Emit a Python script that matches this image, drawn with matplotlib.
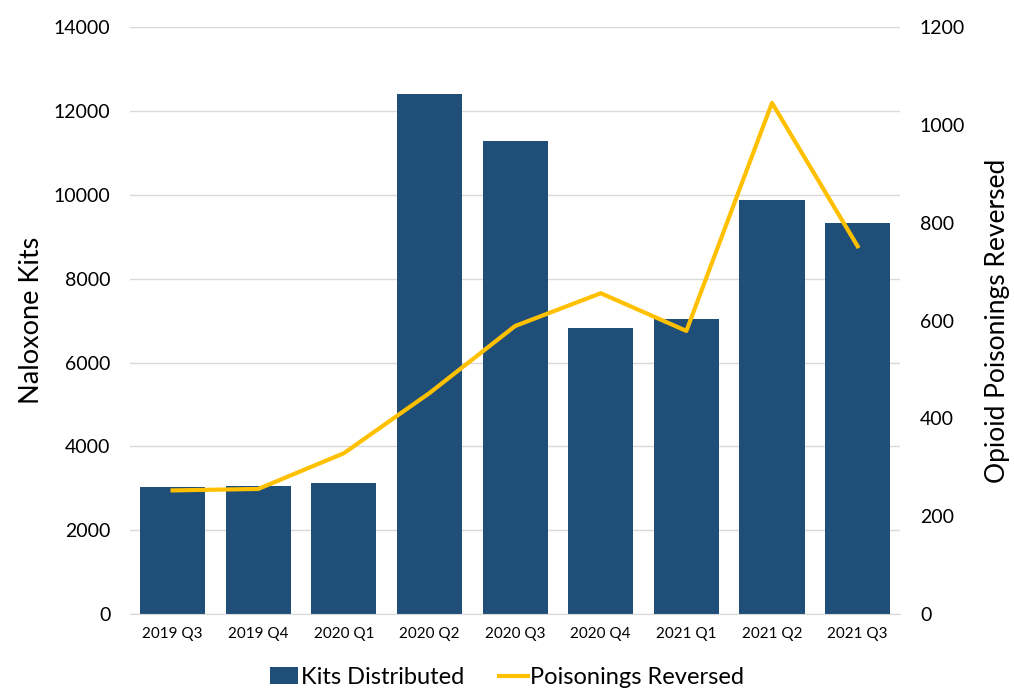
import matplotlib
matplotlib.use('Agg')
import matplotlib.pyplot as plt
import numpy as np

plt.rcParams['font.family'] = ['Lato', 'DejaVu Sans']

quarters = ['2019 Q3', '2019 Q4', '2020 Q1', '2020 Q2', '2020 Q3',
            '2020 Q4', '2021 Q1', '2021 Q2', '2021 Q3']
kits = [3030, 3050, 3120, 12400, 11290, 6820, 7030, 9880, 9320]
reversed_ = [253, 256, 329, 452, 589, 656, 579, 1045, 752]

bar_color = '#1F4E79'
line_color = '#FFC000'
grid_color = '#D9D9D9'

fig = plt.figure(figsize=(10.14, 6.94), dpi=100)
ax = fig.add_axes([0.128, 0.115, 0.76, 0.846])
x = np.arange(len(quarters))

ax.bar(x, kits, width=0.76, color=bar_color, zorder=2, label='Kits Distributed')
ax.set_ylim(0, 14000)
ax.set_yticks(np.arange(0, 14001, 2000))
ax.set_xlim(-0.5, len(quarters) - 0.5)
ax.set_xticks(x)
ax.set_xticklabels(quarters, fontsize=11)
ax.yaxis.grid(True, color=grid_color, linewidth=1, zorder=0)
ax.set_axisbelow(True)
for s in ['top', 'right', 'left']:
    ax.spines[s].set_visible(False)
ax.spines['bottom'].set_color(grid_color)
ax.tick_params(axis='both', length=0)
ax.tick_params(axis='y', labelsize=14, pad=14)
ax.tick_params(axis='x', pad=9)
ax.set_ylabel('Naloxone Kits', fontsize=19.5, labelpad=7)

ax2 = ax.twinx()
ax2.plot(x, reversed_, color=line_color, linewidth=3, zorder=3, label='Poisonings Reversed')
ax2.set_ylim(0, 1200)
ax2.set_yticks(np.arange(0, 1201, 200))
for s in ax2.spines.values():
    s.set_visible(False)
ax2.tick_params(axis='y', length=0, labelsize=14, pad=14)
ax2.set_ylabel('Opioid Poisonings Reversed', fontsize=19, labelpad=14)

h1, l1 = ax.get_legend_handles_labels()
h2, l2 = ax2.get_legend_handles_labels()
fig.legend(h1 + h2, l1 + l2, loc='lower center', bbox_to_anchor=(0.5, -0.022),
           ncol=2, frameon=False, fontsize=17, handlelength=1.2,
           handletextpad=0.1, columnspacing=1.5)

fig.savefig('out.png', dpi=100)
